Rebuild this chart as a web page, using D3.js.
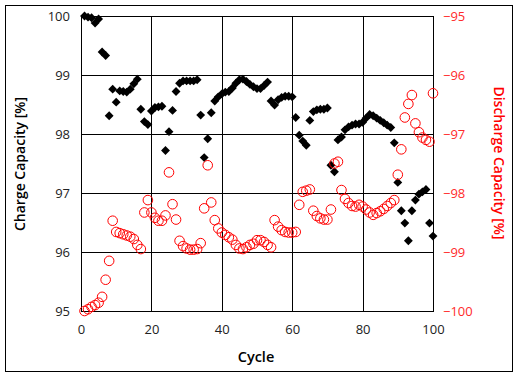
<!DOCTYPE html>
<html><head><meta charset="utf-8">
<script src="https://cdn.jsdelivr.net/npm/d3@7"></script>
<style>body{margin:0;background:#fff}svg{display:block}text{font-family:"Open Sans",sans-serif}</style>
</head><body><svg id="c" width="521" height="379"></svg>
<script>
const cycles = d3.range(1, 101);
const chargeCapacity = [100.00,99.98,99.97,99.88,99.95,99.39,99.33,98.31,98.76,98.54,
98.73,98.72,98.71,98.76,98.85,98.93,98.42,98.21,98.16,98.39,
98.45,98.46,98.47,97.72,98.04,98.40,98.72,98.86,98.90,98.90,
98.90,98.90,98.92,98.32,97.60,97.92,98.36,98.56,98.63,98.68,
98.71,98.72,98.78,98.86,98.92,98.93,98.89,98.84,98.80,98.77,
98.77,98.82,98.88,98.56,98.49,98.58,98.62,98.64,98.64,98.63,
98.28,97.98,97.88,97.81,98.23,98.38,98.41,98.42,98.42,98.44,
97.47,97.36,97.90,97.95,98.07,98.12,98.15,98.17,98.17,98.20,
98.27,98.33,98.31,98.27,98.23,98.19,98.15,98.11,97.85,97.18,
96.70,96.49,96.19,96.70,96.88,96.98,97.02,97.06,96.49,96.27];
const dischargeCapacity = [-100.00,-99.97,-99.93,-99.90,-99.86,-99.76,-99.47,-99.15,-98.47,-98.66,
-98.68,-98.70,-98.72,-98.74,-98.78,-98.88,-98.95,-98.33,-98.12,-98.33,
-98.42,-98.47,-98.47,-98.38,-97.65,-98.19,-98.45,-98.81,-98.90,-98.94,
-98.96,-98.96,-98.95,-98.85,-98.26,-97.53,-98.16,-98.46,-98.60,-98.67,
-98.71,-98.75,-98.79,-98.88,-98.94,-98.95,-98.92,-98.88,-98.86,-98.80,
-98.80,-98.83,-98.88,-98.92,-98.46,-98.57,-98.63,-98.66,-98.67,-98.67,
-98.66,-98.20,-97.98,-97.96,-97.94,-98.30,-98.39,-98.43,-98.45,-98.45,
-98.28,-97.50,-97.47,-97.95,-98.10,-98.17,-98.22,-98.23,-98.20,-98.23,
-98.28,-98.33,-98.37,-98.34,-98.31,-98.27,-98.22,-98.17,-98.12,-97.69,
-97.26,-96.72,-96.49,-96.34,-96.82,-96.97,-97.06,-97.10,-97.13,-96.31];
const xTicks = [0,20,40,60,80,100];
const leftTicks = [95,96,97,98,99,100];
const rightTicks = [-100,-99,-98,-97,-96,-95];

const svg = d3.select("#c");
const L = 81, R = 433, T = 16, B = 311;
const x = d3.scaleLinear().domain([0,100]).range([L,R]);
const yL = d3.scaleLinear().domain([95,100]).range([B,T]);
const yR = d3.scaleLinear().domain([-100,-95]).range([B,T]);
const fmt = d3.format("d");

svg.append("rect").attr("x",5.5).attr("y",5.5).attr("width",507).attr("height",366)
  .attr("fill","none").attr("stroke","#000");

// grid
const g = svg.append("g");
g.selectAll("line.v").data(xTicks).join("line")
  .attr("x1",d=>Math.round(x(d))+0.5).attr("x2",d=>Math.round(x(d))+0.5)
  .attr("y1",T).attr("y2",B).attr("stroke","#000");
g.selectAll("line.h").data(leftTicks).join("line")
  .attr("y1",d=>Math.round(yL(d))+0.5).attr("y2",d=>Math.round(yL(d))+0.5)
  .attr("x1",L).attr("x2",R+1).attr("stroke","#000");

// axes via d3
const ax = svg.append("g").attr("transform",`translate(0,${B})`)
  .call(d3.axisBottom(x).tickValues(xTicks).tickFormat(fmt).tickSize(0).tickPadding(14));
ax.select(".domain").remove();
ax.selectAll("text").attr("font-size",13).attr("fill","#222").attr("font-family","Open Sans");
const al = svg.append("g").attr("transform",`translate(${L},0)`)
  .call(d3.axisLeft(yL).tickValues(leftTicks).tickFormat(fmt).tickSize(0).tickPadding(11));
al.select(".domain").remove();
al.selectAll("text").attr("font-size",13).attr("fill","#222").attr("font-family","Open Sans");
const ar = svg.append("g").attr("transform",`translate(${R},0)`)
  .call(d3.axisRight(yR).tickValues(rightTicks).tickFormat(fmt).tickSize(0).tickPadding(10));
ar.select(".domain").remove();
ar.selectAll("text").attr("font-size",13).attr("fill","#ff2a2a").attr("font-family","Open Sans");

// titles
svg.append("text").attr("x",256).attr("y",362).attr("text-anchor","middle")
  .attr("font-size",14.5).attr("font-weight",600).attr("fill","#000").text("Cycle");
svg.append("text").attr("transform","translate(25,164) rotate(-90)").attr("text-anchor","middle")
  .attr("font-size",14).attr("font-weight",600).attr("fill","#000").text("Charge Capacity [%]");
svg.append("text").attr("transform","translate(494,163) rotate(90)").attr("text-anchor","middle")
  .attr("font-size",14).attr("font-weight",600).attr("fill","#f00").text("Discharge Capacity [%]");

// series
const diamond = d3.symbol().type(d3.symbolDiamond2).size(50);
svg.append("g").selectAll("path").data(cycles).join("path")
  .attr("d", diamond)
  .attr("transform",(d,i)=>`translate(${x(d)},${yL(chargeCapacity[i])})`)
  .attr("fill","#000");
svg.append("g").selectAll("circle").data(cycles).join("circle")
  .attr("cx",d=>x(d)).attr("cy",(d,i)=>yR(dischargeCapacity[i])).attr("r",4.8)
  .attr("fill","none").attr("stroke","#f00").attr("stroke-width",1);
</script></body></html>
